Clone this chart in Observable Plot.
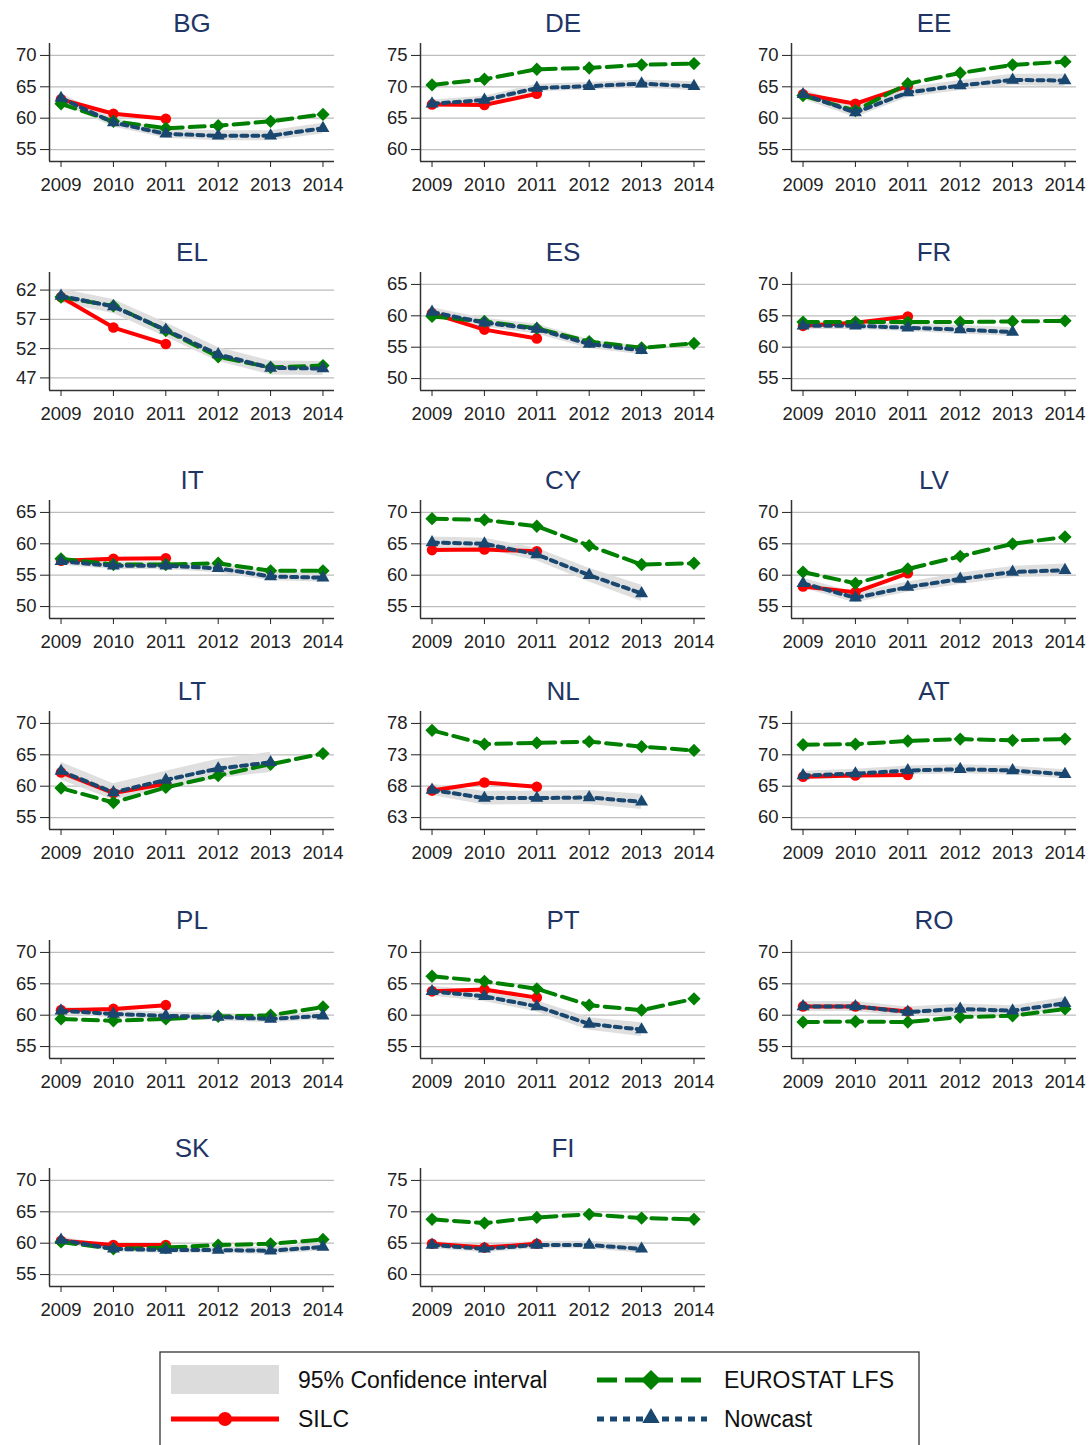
<!DOCTYPE html>
<html><head><meta charset="utf-8">
<script src="https://cdn.jsdelivr.net/npm/d3@7"></script>
<script src="https://cdn.jsdelivr.net/npm/@observablehq/plot@0.6"></script>
<style>
body{margin:0;background:#fff;}
#wrap{position:relative;width:1090px;height:1445px;overflow:hidden;font-family:"Liberation Sans",Arial,sans-serif;background:#fff;}
.panel{position:absolute;width:363px;height:200px;}
.panel svg{max-width:none !important;}
</style></head><body><div id="wrap"></div>
<script>
const years = [2009, 2010, 2011, 2012, 2013, 2014];
const countries = ["BG","DE","EE","EL","ES","FR","IT","CY","LV","LT","NL","AT","PL","PT","RO","SK","FI"];

// SILC (2009-2011)
const silc = [
  [63.0,60.7,59.9],[67.2,67.1,68.9],[63.8,62.3,65.1],[60.8,55.6,52.8],[60.4,57.8,56.4],
  [63.4,63.9,64.9],[57.3,57.6,57.7],[64.0,64.1,63.8],[58.2,57.3,60.3],[62.2,58.9,60.4],
  [67.3,68.6,67.9],[66.5,66.7,66.8],[60.8,61.0,61.6],[63.8,64.1,62.8],[61.4,61.4,60.6],
  [60.4,59.7,59.7],[64.9,64.3,64.9]
];
// EUROSTAT LFS (2009-2014)
const lfs = [
  [62.3,59.5,58.4,58.8,59.5,60.6],[70.3,71.2,72.8,73.0,73.5,73.7],[63.6,61.2,65.5,67.2,68.5,69.0],
  [60.8,59.3,55.1,50.6,48.8,49.1],[59.9,59.1,58.0,55.9,54.9,55.6],[64.0,64.0,64.0,64.0,64.1,64.2],
  [57.6,56.7,56.7,56.9,55.7,55.7],[69.0,68.8,67.8,64.7,61.7,61.9],[60.5,58.7,61.0,63.0,65.0,66.1],
  [59.7,57.4,59.8,61.7,63.5,65.2],[76.9,74.7,74.9,75.1,74.3,73.7],[71.6,71.7,72.2,72.5,72.3,72.5],
  [59.4,59.1,59.4,59.8,60.0,61.3],[66.2,65.4,64.2,61.6,60.8,62.6],[58.9,59.0,58.9,59.7,59.9,61.0],
  [60.2,59.1,59.3,59.7,59.9,60.6],[68.8,68.2,69.1,69.6,69.0,68.8]
];
// Nowcast
const nowcast = [
  [63.2,59.3,57.5,57.2,57.2,58.4],[67.3,67.9,69.8,70.1,70.5,70.1],[63.8,60.9,64.1,65.2,66.1,66.0],
  [61.0,59.2,55.2,51.0,48.7,48.6],[60.6,58.9,57.9,55.5,54.5],[63.4,63.4,63.1,62.8,62.4],
  [57.2,56.5,56.5,56.1,54.8,54.6],[65.2,65.0,63.3,60.0,57.1],[58.7,56.4,58.1,59.4,60.5,60.8],
  [62.4,59.0,61.0,62.8,63.8],[67.4,66.1,66.1,66.2,65.5],[66.7,67.0,67.5,67.7,67.5,66.9],
  [60.7,60.2,59.9,59.7,59.4,59.9],[63.8,63.0,61.4,58.6,57.7],[61.4,61.4,60.5,61.0,60.7,61.9],
  [60.5,59.1,58.9,58.9,58.8,59.4],[64.7,64.1,64.7,64.7,64.1]
];
// 95% confidence interval of nowcast
const ciLow = [
  [62.4,58.6,56.8,56.4,56.4,57.5],[66.8,67.3,69.2,69.5,69.8,69.4],[63.0,60.1,63.3,64.4,65.2,65.0],
  [59.8,58.0,54.0,49.8,47.5,47.4],[59.9,58.2,57.1,54.8,53.8],[62.8,62.8,62.5,62.1,61.7],
  [56.6,55.9,55.9,55.4,54.1,53.9],[64.3,64.1,62.3,58.9,55.8],[57.9,55.6,57.3,58.5,59.6,59.8],
  [61.0,57.8,59.6,61.2,62.2],[66.5,65.0,65.1,65.1,64.3],[66.0,66.3,66.8,67.0,66.8,66.2],
  [60.1,59.6,59.3,59.1,58.8,59.3],[63.0,62.2,60.5,57.6,56.6],[60.6,60.6,59.7,60.2,59.9,61.0],
  [60.0,58.6,58.4,58.4,58.2,58.8],[64.1,63.5,64.1,64.1,63.4]
];
const ciHigh = [
  [63.9,60.0,58.2,58.0,58.0,59.2],[67.9,68.5,70.4,70.7,71.1,70.8],[64.6,61.7,64.9,66.0,67.0,67.0],
  [62.2,60.4,56.4,52.2,49.9,49.8],[61.3,59.6,58.7,56.2,55.2],[64.0,64.0,63.7,63.5,63.1],
  [57.8,57.1,57.1,56.8,55.5,55.3],[66.1,65.9,64.3,61.1,58.4],[59.5,57.2,58.9,60.3,61.4,61.8],
  [63.8,60.4,62.4,64.3,65.4],[68.3,67.2,67.2,67.3,66.7],[67.4,67.7,68.2,68.4,68.2,67.6],
  [61.3,60.8,60.5,60.3,60.0,60.5],[64.6,63.8,62.3,59.6,58.8],[62.2,62.2,61.3,61.8,61.5,62.8],
  [61.0,59.6,59.4,59.4,59.4,60.0],[65.3,64.7,65.3,65.3,64.8]
];
// y tick labels per panel
const yTicks = [
  [55,60,65,70],[60,65,70,75],[55,60,65,70],[47,52,57,62],[50,55,60,65],[55,60,65,70],
  [50,55,60,65],[55,60,65,70],[55,60,65,70],[55,60,65,70],[63,68,73,78],[60,65,70,75],
  [55,60,65,70],[55,60,65,70],[55,60,65,70],[55,60,65,70],[60,65,70,75]
];
// axis ranges
const yDomains = yTicks.map((t, i) => countries[i] === "EL" ? [44.85, 65.0] : [t[0] - 1.9, t[t.length - 1] + 1.9]);

const colOffsets = [0, 371, 742];
const rowOffsets = [0, 229, 457, 668, 897, 1125];
const xDomain = [2008.78, 2014.22];

const C_RED = "#ff0000", C_GREEN = "#008000", C_NAVY = "#1a476f", C_CI = "#dcdcdc";
const wrap = document.getElementById("wrap");
const font = '"Liberation Sans", Arial, sans-serif';

countries.forEach((name, i) => {
  const toRows = arr => arr.map((v, j) => ({year: years[j], v}));
  const s = toRows(silc[i]), l = toRows(lfs[i]), n = toRows(nowcast[i]);
  const ci = nowcast[i].map((v, j) => ({year: years[j], lo: ciLow[i][j], hi: ciHigh[i][j]}));
  const chart = Plot.plot({
    width: 363, height: 200,
    marginTop: 43, marginBottom: 39, marginLeft: 49, marginRight: 29,
    style: {fontFamily: font, fontSize: "18.5px", color: "#222", background: "transparent", maxWidth: "none"},
    x: {domain: xDomain},
    y: {domain: yDomains[i]},
    marks: [
      Plot.ruleY(yTicks[i], {stroke: "#bdbdbd", strokeWidth: 1.2}),
      Plot.areaY(ci, {x: "year", y1: "lo", y2: "hi", fill: C_CI, fillOpacity: 0.9}),
      Plot.lineY(s, {x: "year", y: "v", stroke: C_RED, strokeWidth: 4}),
      Plot.dot(s, {x: "year", y: "v", r: 5.3, fill: C_RED, stroke: "none"}),
      Plot.lineY(l, {x: "year", y: "v", stroke: C_GREEN, strokeWidth: 4, strokeDasharray: "15,7"}),
      Plot.dot(l, {x: "year", y: "v", symbol: "diamond2", r: 6, fill: C_GREEN, stroke: "none"}),
      Plot.lineY(n, {x: "year", y: "v", stroke: C_NAVY, strokeWidth: 4, strokeDasharray: "6,5"}),
      Plot.dot(n, {x: "year", y: "v", symbol: "triangle", r: 4.8, fill: C_NAVY, stroke: "none"}),
      Plot.ruleX([xDomain[0]], {stroke: "#333", strokeWidth: 1.5}),
      Plot.ruleY([yDomains[i][0]], {stroke: "#333", strokeWidth: 1.5}),
      Plot.axisX({ticks: years, tickFormat: "d", tickSize: 6, tickPadding: 10, label: null, fontSize: 18.5}),
      Plot.axisY({ticks: yTicks[i], tickSize: 9, tickPadding: 4, label: null, fontSize: 18.5}),
      Plot.text([name], {text: d => d, frameAnchor: "top", lineAnchor: "middle", dy: -20, fontSize: 26, fill: "#1f3566"})
    ]
  });
  const div = document.createElement("div");
  div.className = "panel";
  div.style.left = colOffsets[i % 3] + "px";
  div.style.top = rowOffsets[Math.floor(i / 3)] + "px";
  div.appendChild(chart);
  wrap.appendChild(div);
});

// Legend
const legendItems = [
  {label: "95% Confidence interval", kind: "ci", x: 12, y: 29},
  {label: "SILC", kind: "silc", x: 12, y: 68},
  {label: "EUROSTAT LFS", kind: "lfs", x: 438, y: 29},
  {label: "Nowcast", kind: "now", x: 438, y: 68}
];
const lg = d3.select(wrap).append("svg")
  .attr("width", 762).attr("height", 96)
  .style("position", "absolute").style("left", "159px").style("top", "1351px");
lg.append("rect").attr("x", 1).attr("y", 1).attr("width", 759).attr("height", 100)
  .attr("fill", "#fff").attr("stroke", "#333").attr("stroke-width", 1.3);
legendItems.forEach(it => {
  const g = lg.append("g");
  if (it.kind === "ci") {
    g.append("rect").attr("x", it.x).attr("y", it.y - 15).attr("width", 108).attr("height", 29).attr("fill", C_CI);
  } else if (it.kind === "silc") {
    g.append("line").attr("x1", it.x).attr("x2", it.x + 108).attr("y1", it.y).attr("y2", it.y).attr("stroke", C_RED).attr("stroke-width", 5);
    g.append("circle").attr("cx", it.x + 54).attr("cy", it.y).attr("r", 7).attr("fill", C_RED);
  } else if (it.kind === "lfs") {
    g.append("line").attr("x1", it.x).attr("x2", it.x + 110).attr("y1", it.y).attr("y2", it.y).attr("stroke", C_GREEN).attr("stroke-width", 5).attr("stroke-dasharray", "20,8");
    g.append("path").attr("d", d3.symbol(d3.symbolDiamond2, 260)()).attr("transform", `translate(${it.x + 54},${it.y})`).attr("fill", C_GREEN);
  } else {
    g.append("line").attr("x1", it.x).attr("x2", it.x + 110).attr("y1", it.y).attr("y2", it.y).attr("stroke", C_NAVY).attr("stroke-width", 5).attr("stroke-dasharray", "7,6");
    g.append("path").attr("d", d3.symbol(d3.symbolTriangle, 130)()).attr("transform", `translate(${it.x + 54},${it.y - 1})`).attr("fill", C_NAVY);
  }
  g.append("text").attr("x", it.x + 127).attr("y", it.y).attr("dy", "0.35em")
    .attr("font-family", font).attr("font-size", 23).attr("fill", "#111").text(it.label);
});
</script>
</body></html>
